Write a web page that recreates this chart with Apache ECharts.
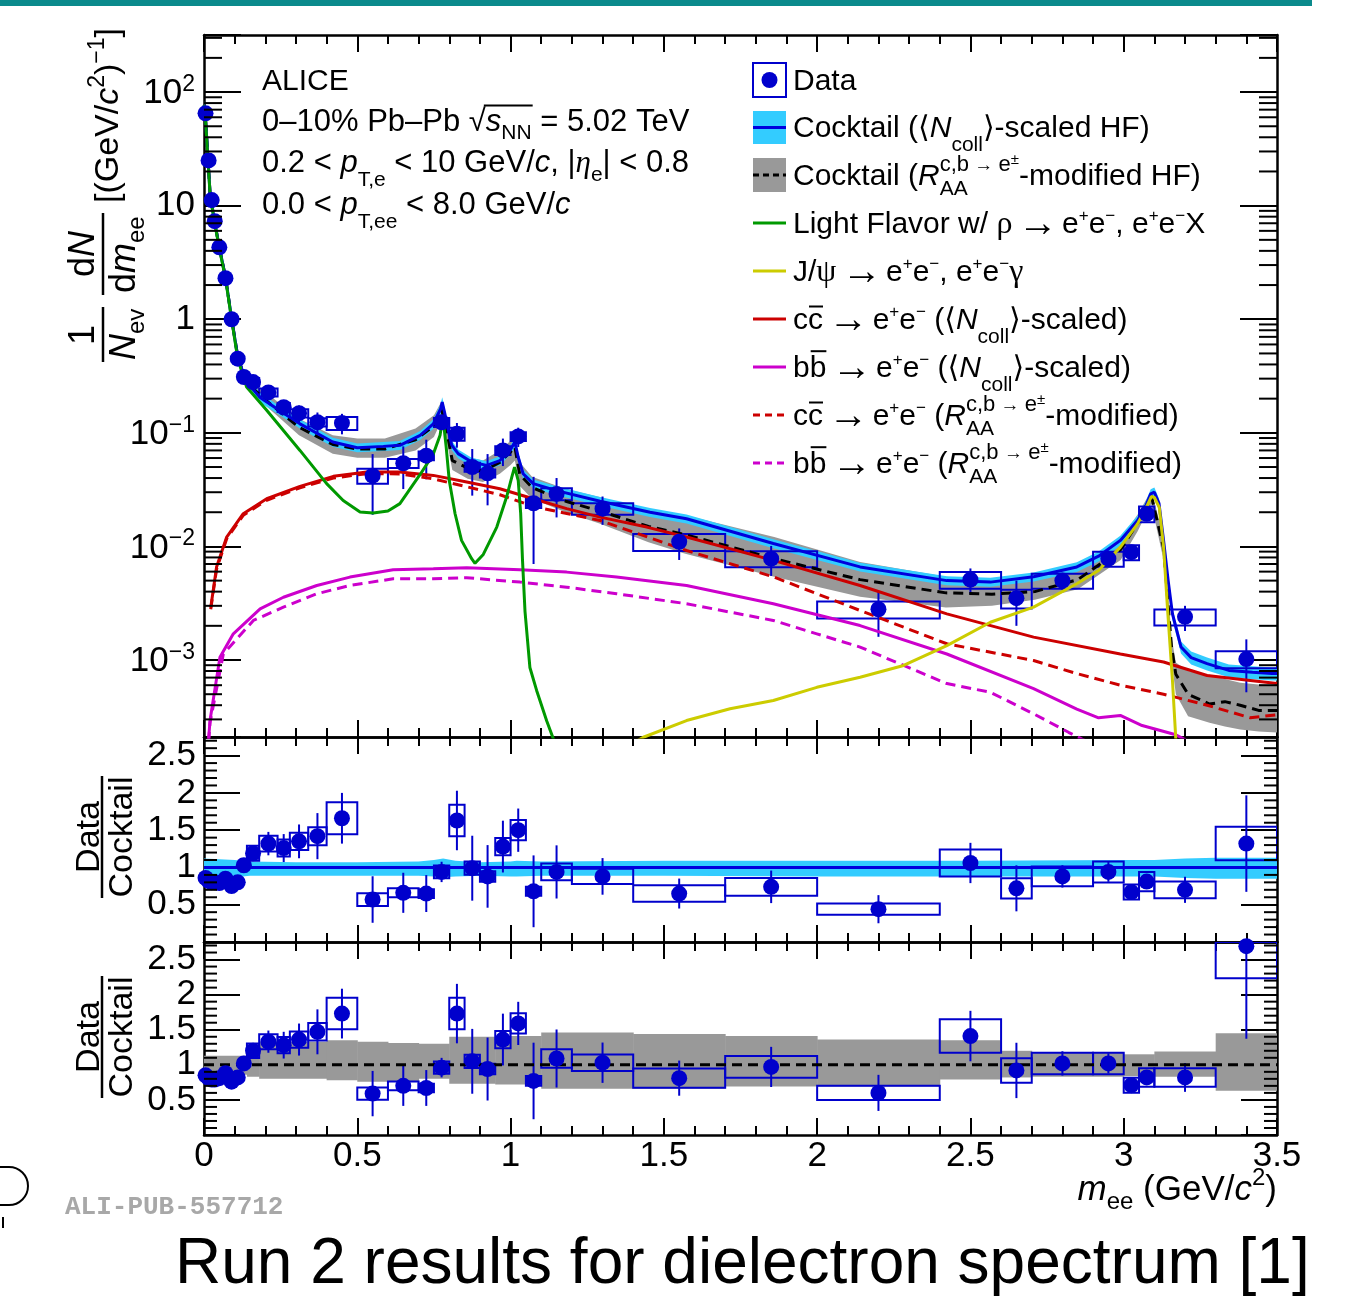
<!DOCTYPE html>
<html>
<head>
<meta charset="utf-8">
<script src="https://cdn.jsdelivr.net/npm/echarts@6/dist/echarts.min.js"></script>
<style>
  html, body { margin: 0; padding: 0; background: #fff; }
  #chart { width: 1360px; height: 1297px; }
</style>
</head>
<body>
<div id="chart"></div>
<script>
// ---- data points (bins in m_ee, GeV/c^2) ----
const massEdges = [0, 0.01, 0.02, 0.03, 0.04, 0.06, 0.08, 0.10, 0.12, 0.14, 0.18, 0.24, 0.28, 0.34, 0.40, 0.50, 0.60, 0.70, 0.75, 0.80, 0.85, 0.90, 0.95, 1.00, 1.05, 1.10, 1.20, 1.40, 1.70, 2.00, 2.40, 2.60, 2.70, 2.90, 3.00, 3.05, 3.10, 3.30, 3.50];
const massCenters = [0.005, 0.015, 0.025, 0.035, 0.05, 0.07, 0.09, 0.11, 0.13, 0.16, 0.21, 0.26, 0.31, 0.37, 0.45, 0.55, 0.65, 0.725, 0.775, 0.825, 0.875, 0.925, 0.975, 1.025, 1.075, 1.15, 1.30, 1.55, 1.85, 2.20, 2.50, 2.65, 2.80, 2.95, 3.025, 3.075, 3.20, 3.40];
const dataYield = [65, 25, 11.2, 7.3, 4.3, 2.3, 1.0, 0.45, 0.31, 0.28, 0.227, 0.168, 0.149, 0.124, 0.122, 0.042, 0.054, 0.063, 0.124, 0.098, 0.050, 0.044, 0.070, 0.093, 0.024, 0.029, 0.0215, 0.011, 0.0078, 0.0028, 0.0051, 0.0035, 0.0050, 0.0078, 0.0089, 0.0194, 0.0024, 0.00102];
const dataStat = [1.5, 0.6, 0.3, 0.2, 0.12, 0.07, 0.035, 0.018, 0.015, 0.022, 0.027, 0.025, 0.025, 0.027, 0.025, 0.023, 0.022, 0.024, 0.018, 0.024, 0.022, 0.021, 0.019, 0.018, 0.017, 0.011, 0.006, 0.0034, 0.0023, 0.0012, 0.0013, 0.0015, 0.00085, 0.0011, 0.0006, 0.001, 0.0006, 0.0005];
const dataSysRel = [0.08, 0.08, 0.08, 0.08, 0.08, 0.08, 0.08, 0.08, 0.08, 0.085, 0.08, 0.09, 0.085, 0.085, 0.13, 0.15, 0.09, 0.09, 0.09, 0.13, 0.09, 0.08, 0.09, 0.09, 0.09, 0.12, 0.115, 0.17, 0.16, 0.17, 0.17, 0.19, 0.15, 0.15, 0.15, 0.16, 0.16, 0.17];
const ratioNcoll = [0.86, 0.82, 0.80, 0.80, 0.79, 0.85, 0.75, 0.80, 1.03, 1.19, 1.32, 1.26, 1.35, 1.42, 1.66, 0.57, 0.66, 0.65, 0.94, 1.63, 0.99, 0.88, 1.28, 1.50, 0.68, 0.94, 0.88, 0.65, 0.74, 0.44, 1.06, 0.72, 0.88, 0.94, 0.67, 0.81, 0.70, 1.32];
const ratioRaa = [0.85, 0.81, 0.79, 0.79, 0.81, 0.88, 0.76, 0.82, 1.02, 1.20, 1.33, 1.28, 1.36, 1.47, 1.73, 0.59, 0.70, 0.67, 0.96, 1.73, 1.05, 0.94, 1.36, 1.59, 0.77, 1.09, 1.03, 0.81, 0.97, 0.60, 1.41, 0.92, 1.02, 1.02, 0.71, 0.82, 0.82, 2.69];

// ---- cocktail curves [m, value] ----
// Ncoll-scaled cocktail: [m, value, relative band half-width]
const cocktailNcoll = [[0.001,77,0.1],[0.005,58,0.1],[0.013,26,0.1],[0.02,12.5,0.1],[0.035,7.1,0.1],[0.05,4.3,0.1],[0.07,2.35,0.1],[0.09,1.02,0.1],[0.11,0.47,0.1],[0.13,0.32,0.1],[0.15,0.26,0.1],[0.183,0.205,0.1],[0.25,0.155,0.09],[0.313,0.12,0.09],[0.42,0.083,0.09],[0.5,0.074,0.09],[0.585,0.076,0.09],[0.639,0.0776,0.09],[0.705,0.095,0.09],[0.748,0.12,0.1],[0.772,0.163,0.1],[0.777,0.187,0.1],[0.785,0.15,0.1],[0.797,0.105,0.1],[0.808,0.078,0.1],[0.829,0.0656,0.09],[0.873,0.0554,0.09],[0.922,0.0517,0.09],[0.965,0.057,0.09],[0.998,0.070,0.09],[1.014,0.083,0.1],[1.025,0.061,0.1],[1.041,0.0436,0.09],[1.074,0.0357,0.09],[1.15,0.031,0.09],[1.292,0.025,0.09],[1.455,0.020,0.09],[1.574,0.0175,0.09],[1.857,0.0106,0.09],[2.14,0.0066,0.09],[2.423,0.0050,0.09],[2.565,0.00485,0.09],[2.706,0.0054,0.09],[2.847,0.0066,0.1],[2.918,0.0082,0.1],[2.989,0.0113,0.1],[3.045,0.0169,0.1],[3.07,0.022,0.1],[3.088,0.029,0.1],[3.10,0.030,0.1],[3.115,0.024,0.1],[3.13,0.0113,0.1],[3.145,0.005,0.12],[3.159,0.00255,0.12],[3.187,0.0013,0.12],[3.22,0.00105,0.13],[3.272,0.00093,0.13],[3.343,0.00081,0.13],[3.42,0.00078,0.13],[3.484,0.00076,0.13],[3.5,0.00076,0.13]];
// RAA-modified cocktail: [m, low, central, high]
const cocktailRaa = [[0.001,74,77,80],[0.005,56,58,60],[0.013,25,26,27],[0.02,12,12.5,13],[0.035,6.8,7.1,7.4],[0.05,4.1,4.3,4.5],[0.07,2.25,2.35,2.45],[0.09,0.97,1.02,1.07],[0.11,0.45,0.47,0.49],[0.13,0.30,0.32,0.34],[0.15,0.24,0.26,0.28],[0.2,0.175,0.195,0.229],[0.31,0.095,0.112,0.133],[0.42,0.0655,0.079,0.095],[0.5,0.0605,0.072,0.089],[0.59,0.0605,0.072,0.089],[0.69,0.070,0.087,0.109],[0.75,0.092,0.115,0.143],[0.775,0.129,0.16,0.19],[0.79,0.09,0.11,0.13],[0.81,0.047,0.057,0.070],[0.86,0.0395,0.049,0.061],[0.91,0.037,0.046,0.057],[0.965,0.0436,0.055,0.070],[1.0,0.052,0.068,0.085],[1.014,0.057,0.075,0.095],[1.03,0.034,0.043,0.055],[1.07,0.0263,0.033,0.041],[1.18,0.020,0.025,0.032],[1.29,0.0159,0.0205,0.0272],[1.45,0.0109,0.015,0.0207],[1.57,0.0086,0.0127,0.0188],[1.86,0.0054,0.0078,0.0121],[2.14,0.0036,0.0051,0.0073],[2.42,0.0029,0.0039,0.0054],[2.57,0.0030,0.0038,0.0050],[2.71,0.0034,0.0040,0.0054],[2.85,0.0042,0.0051,0.0066],[2.99,0.0076,0.0094,0.0117],[3.045,0.0135,0.016,0.019],[3.09,0.0238,0.028,0.031],[3.13,0.0076,0.0097,0.0121],[3.156,0.0010,0.0013,0.0016],[3.17,0.00050,0.00075,0.00095],[3.21,0.00032,0.00050,0.00080],[3.28,0.00028,0.00041,0.00074],[3.33,0.00026,0.00043,0.00068],[3.38,0.000245,0.00040,0.00063],[3.44,0.000235,0.00036,0.00061],[3.5,0.00023,0.00036,0.00060]];
const lightFlavor = [[0.001,77],[0.005,57],[0.013,25],[0.02,12.3],[0.035,7.0],[0.05,4.2],[0.07,2.3],[0.09,1.0],[0.11,0.45],[0.13,0.30],[0.139,0.253],[0.2045,0.158],[0.313,0.070],[0.40,0.0357],[0.454,0.0254],[0.509,0.0201],[0.552,0.0197],[0.60,0.0205],[0.639,0.0238],[0.705,0.043],[0.748,0.065],[0.77,0.095],[0.779,0.14],[0.79,0.075],[0.80,0.038],[0.819,0.0194],[0.84,0.0113],[0.873,0.0078],[0.884,0.0071],[0.911,0.0085],[0.955,0.0148],[0.987,0.0272],[1.004,0.0408],[1.013,0.050],[1.025,0.038],[1.033,0.0194],[1.039,0.0075],[1.047,0.0027],[1.063,0.00086],[1.085,0.00054],[1.118,0.00029],[1.15,0.00017]];
const jpsi = [[1.30,1.3e-4],[1.433,2.09e-4],[1.574,2.93e-4],[1.716,3.72e-4],[1.857,4.4e-4],[1.999,5.75e-4],[2.14,7.06e-4],[2.282,8.95e-4],[2.423,1.34e-3],[2.565,2.15e-3],[2.706,2.92e-3],[2.847,4.69e-3],[2.918,6.15e-3],[2.989,9.86e-3],[3.045,0.0158],[3.07,0.021],[3.09,0.0275],[3.10,0.027],[3.116,0.022],[3.13,0.0099],[3.144,0.00255],[3.159,6.6e-4],[3.17,2.0e-4],[3.18,1.2e-4]];
const ccNcoll = [[0.022,2.9e-3],[0.041,6.6e-3],[0.074,0.0121],[0.128,0.0194],[0.2045,0.0263],[0.313,0.0338],[0.422,0.0414],[0.531,0.0452],[0.639,0.0452],[0.748,0.0422],[0.857,0.0369],[0.965,0.0322],[1.074,0.0263],[1.183,0.0215],[1.292,0.0181],[1.444,0.0148],[1.574,0.0121],[1.857,0.00753],[2.14,0.00453],[2.423,0.00255],[2.706,0.00159],[2.989,0.00113],[3.13,9.6e-4],[3.272,7.3e-4],[3.413,6.6e-4],[3.5,6.2e-4]];
const ccRaa = [[0.022,2.8e-3],[0.041,6.3e-3],[0.074,0.0117],[0.128,0.0188],[0.2045,0.0255],[0.313,0.0328],[0.422,0.040],[0.531,0.0437],[0.639,0.0435],[0.748,0.0393],[0.857,0.0335],[0.965,0.0285],[1.074,0.0225],[1.183,0.0195],[1.292,0.0169],[1.574,0.0092],[1.857,0.0054],[2.14,0.00273],[2.423,0.00139],[2.706,9.9e-4],[2.847,7.6e-4],[2.989,6.0e-4],[3.13,5.0e-4],[3.272,4.0e-4],[3.413,3.1e-4],[3.5,3.3e-4]];
const bbNcoll = [[0.015,2.0e-4],[0.0196,2.93e-4],[0.052,1.06e-3],[0.0956,1.70e-3],[0.183,2.82e-3],[0.259,3.57e-3],[0.368,4.53e-3],[0.476,5.37e-3],[0.617,6.23e-3],[0.748,6.36e-3],[0.857,6.49e-3],[1.031,6.23e-3],[1.183,5.94e-3],[1.346,5.37e-3],[1.574,4.53e-3],[1.857,3.13e-3],[2.14,2.01e-3],[2.423,1.13e-3],[2.706,5.6e-4],[2.847,3.7e-4],[2.918,3.1e-4],[2.989,3.25e-4],[3.06,2.65e-4],[3.17,2.2e-4],[3.23,1.8e-4]];
const bbRaa = [[0.015,1.9e-4],[0.0196,2.8e-4],[0.063,1.13e-3],[0.161,2.23e-3],[0.259,2.92e-3],[0.368,3.83e-3],[0.476,4.53e-3],[0.617,5.19e-3],[0.748,5.19e-3],[0.857,5.3e-3],[1.031,4.85e-3],[1.183,4.38e-3],[1.346,3.83e-3],[1.574,3.13e-3],[1.857,2.23e-3],[1.999,1.70e-3],[2.14,1.30e-3],[2.423,6.2e-4],[2.565,5.2e-4],[2.706,3.36e-4],[2.82,2.31e-4],[2.90,1.8e-4]];

// ratio-panel uncertainty bands
const ncollRatioBand = [[0,0.86,1.12],[0.05,0.86,1.11],[0.1,0.87,1.10],[0.15,0.89,1.08],[0.3,0.89,1.07],[0.5,0.89,1.07],[0.7,0.89,1.08],[0.75,0.88,1.10],[0.78,0.87,1.12],[0.82,0.88,1.09],[0.9,0.89,1.07],[1.0,0.88,1.08],[1.02,0.88,1.09],[1.1,0.89,1.08],[1.5,0.89,1.09],[2.0,0.88,1.09],[2.5,0.88,1.09],[3.0,0.88,1.10],[3.1,0.88,1.10],[3.2,0.86,1.12],[3.3,0.85,1.13],[3.5,0.85,1.13]];
const raaRatioBand = [[0,0.14,0.86,1.13],[0.14,0.18,0.83,1.25],[0.18,0.40,0.80,1.33],[0.40,0.50,0.78,1.35],[0.50,0.60,0.76,1.33],[0.60,0.70,0.77,1.31],[0.70,0.80,0.80,1.30],[0.80,0.95,0.73,1.40],[0.95,1.10,0.72,1.41],[1.10,1.40,0.66,1.46],[1.40,1.70,0.66,1.44],[1.70,2.00,0.69,1.41],[2.00,2.40,0.69,1.36],[2.40,2.60,0.79,1.35],[2.60,2.70,0.82,1.20],[2.70,3.00,0.83,1.17],[3.00,3.10,0.84,1.15],[3.10,3.30,0.83,1.19],[3.30,3.50,0.63,1.45]];

// ---- styling ----
const FONT = '"Liberation Sans","DejaVu Sans",sans-serif';
const SERIF = '"Liberation Serif","DejaVu Serif",serif';
const BLUE = '#0000cc', LINEBLUE = '#0000dd', LIGHTBLUE = '#33ccff', GRAY = '#999999';
const GREEN = '#009900', YELLOW = '#cccc00', RED = '#cc0000', MAGENTA = '#cc00cc';

const mctx = document.createElement('canvas').getContext('2d');
function fontStr(p) { return p.f || ((p.it ? 'italic ' : '') + p.s + 'px ' + (p.serif ? SERIF : FONT)); }
function midOffset(font) {
  mctx.font = font; mctx.textBaseline = 'middle';
  return mctx.measureText('H').actualBoundingBoxDescent;
}
// lay out a line of text pieces (sub/superscripts) starting at x0 on a baseline
function texLine(x0, base, parts, opt) {
  opt = opt || {};
  const color = opt.color || '#000';
  const size = opt.s || 30;
  const items = parts.map(p => {
    const q = Object.assign({ s: size }, p);
    q.font = fontStr(q); mctx.font = q.font; q.w = mctx.measureText(q.t).width;
    return q;
  });
  let total = 0;
  items.forEach(q => { total += (q.dx || 0) + (q.stack ? 0 : q.w); });
  let x = opt.align === 'right' ? x0 - total : opt.align === 'center' ? x0 - total / 2 : x0;
  const els = [];
  let barX = 0;
  items.forEach(q => {
    x += q.dx || 0;
    const b = base + (q.dy || 0);
    els.push({ type: 'text', x: x, y: b - midOffset(q.font), silent: true,
      style: { text: q.t, font: q.font, fill: color, align: 'left', verticalAlign: 'middle' } });
    if (q.over) {
      const oy = b - q.over * q.s;
      els.push({ type: 'line', silent: true, shape: { x1: x + 1, y1: oy, x2: x + q.w, y2: oy }, style: { stroke: color, lineWidth: 2 } });
    }
    if (q.barStart) barX = x + q.w - 2;
    if (q.barEnd) {
      const oy = base - 0.82 * size;
      els.push({ type: 'line', silent: true, shape: { x1: barX, y1: oy, x2: x + q.w + 1, y2: oy }, style: { stroke: color, lineWidth: 2 } });
    }
    if (!q.stack) x += q.w;
  });
  return els;
}
const it = (t, o) => Object.assign({ t: t, it: true }, o || {});
const sup = t => ({ t: t, s: 17, dy: -12 });
const arrow = [{ t: ' ' }, { t: '\u2192', s: 40, dy: 3, dx: -3 }, { t: ' ', dx: -4 }];
const ee = [...arrow, { t: 'e' }, sup('+'), { t: 'e' }, sup('\u2212')];
const ncollTag = [{ t: '\u27e8' }, it('N'), { t: 'coll', s: 21, dy: 14 }, { t: '\u27e9' }];
const raaTag = [it('R'), { t: 'AA', s: 21, dy: 10, stack: true }, { t: 'c,b', s: 22, dy: -14 }, { t: ' \u2192 ', s: 19, dy: -14 }, { t: 'e', s: 22, dy: -14 }, { t: '\u00b1', s: 15, dy: -21 }];

// ---- axes ----
const grids = [
  { left: 204, top: 35, width: 1073, height: 702 },
  { left: 204, top: 737, width: 1073, height: 205 },
  { left: 204, top: 942, width: 1073, height: 193 }
];
const lineBlack = { color: '#000', width: 2.5 };
function xAx(gi, pos, showLabel) {
  return {
    type: 'value', gridIndex: gi, position: pos, min: 0, max: 3.5, interval: 0.5,
    axisLine: { show: true, onZero: false, lineStyle: lineBlack },
    axisTick: { show: true, inside: true, length: 17, lineStyle: { color: '#000', width: 2 } },
    minorTick: { show: true, splitNumber: 5, length: 9, lineStyle: { color: '#000', width: 2 } },
    axisLabel: { show: showLabel, margin: 4, fontSize: 35, fontFamily: FONT, color: '#000' },
    splitLine: { show: false }, minorSplitLine: { show: false }
  };
}
function logLabel(v) {
  const l = Math.log10(v), e = Math.round(l);
  if (Math.abs(l - e) > 1e-6) return '';
  if (e === 0) return '{b|1}';
  if (e === 1) return '{b|10}';
  return '{b|10}{s|' + (e < 0 ? '\u2212' + (-e) : e) + '}';
}
function yLog(pos, showLabel) {
  return {
    type: 'log', logBase: 10, gridIndex: 0, position: pos, min: 2.1e-4, max: 318,
    axisLine: { show: true, onZero: false, lineStyle: lineBlack },
    axisTick: { show: true, inside: true, length: 37, lineStyle: { color: '#000', width: 2 } },
    minorTick: { show: false },
    axisLabel: { show: showLabel, margin: 9, formatter: logLabel, color: '#000',
      rich: { b: { fontSize: 35, fontFamily: FONT, color: '#000', verticalAlign: 'bottom' },
              s: { fontSize: 23, fontFamily: FONT, color: '#000', verticalAlign: 'bottom', padding: [0, 0, 15, 0] } } },
    splitLine: { show: false }
  };
}
function yRatio(gi, pos, showLabel) {
  return {
    type: 'value', gridIndex: gi, position: pos, min: 0, max: 2.75, interval: 0.5,
    axisLine: { show: true, onZero: false, lineStyle: lineBlack },
    axisTick: { show: true, inside: true, length: 36, lineStyle: { color: '#000', width: 2 } },
    minorTick: { show: false },
    axisLabel: { show: showLabel, margin: 8, fontSize: 35, fontFamily: FONT, color: '#000',
      formatter: v => (v <= 0 || v > 2.6) ? '' : String(v) },
    splitLine: { show: false }
  };
}

// minor tick values (axis decoration only)
const logMinorTicks = [];
for (let d = -4; d <= 2; d++) for (let k = 2; k <= 9; k++) {
  const v = k * Math.pow(10, d);
  if (v > 2.1e-4 && v < 318) logMinorTicks.push(v);
}
const ratioMinorTicks = [];
for (let i = 1; i <= 27; i++) if (i % 5 !== 0) ratioMinorTicks.push(i / 10);

function yMinor(gi, vals, len) {
  return {
    type: 'custom', xAxisIndex: gi * 2, yAxisIndex: gi * 2, silent: true, z: 5,
    data: vals.map(v => [1, v]),
    renderItem: (params, api) => {
      const v = api.value(1);
      const a = api.coord([0, v]), b = api.coord([3.5, v]);
      return { type: 'group', children: [
        { type: 'line', shape: { x1: a[0], y1: a[1], x2: a[0] + len, y2: a[1] }, style: { stroke: '#000', lineWidth: 2 } },
        { type: 'line', shape: { x1: b[0] - len, y1: b[1], x2: b[0], y2: b[1] }, style: { stroke: '#000', lineWidth: 2 } }
      ] };
    }
  };
}
// filled band: pts [m, lo, hi]
function band(gi, pts, color) {
  return {
    type: 'custom', xAxisIndex: gi * 2, yAxisIndex: gi * 2, silent: true, clip: true,
    data: [[pts[0][0], pts[0][2]]],
    renderItem: (params, api) => {
      const up = pts.map(p => api.coord([p[0], p[2]]));
      const dn = pts.map(p => api.coord([p[0], p[1]])).reverse();
      return { type: 'polygon', shape: { points: up.concat(dn) }, style: { fill: color } };
    }
  };
}
function curve(gi, pts, color, dashed, width) {
  return {
    type: 'line', xAxisIndex: gi * 2, yAxisIndex: gi * 2, data: pts.map(p => [p[0], p[1]]),
    symbol: 'none', silent: true, clip: true, smooth: false,
    lineStyle: { color: color, width: width || 3, type: dashed ? [10, 6] : 'solid' }
  };
}
function boxes(gi, items) {
  return {
    type: 'custom', xAxisIndex: gi * 2, yAxisIndex: gi * 2, silent: true, clip: true,
    data: items,
    renderItem: (params, api) => {
      const p1 = api.coord([api.value(2), api.value(5)]);
      const p2 = api.coord([api.value(3), api.value(4)]);
      const r = echarts.graphic.clipRectByRect({ x: p1[0], y: p1[1], width: p2[0] - p1[0], height: p2[1] - p1[1] }, params.coordSys);
      if (!r) return null;
      return { type: 'rect', shape: r, style: { fill: 'none', stroke: BLUE, lineWidth: 2 } };
    }
  };
}
function errBars(gi, items) {
  return {
    type: 'custom', xAxisIndex: gi * 2, yAxisIndex: gi * 2, silent: true,
    data: items,
    renderItem: (params, api) => {
      const cs = params.coordSys;
      const x = api.value(0);
      const a = api.coord([x, Math.max(api.value(2), 1e-12)]), b = api.coord([x, api.value(3)]);
      const y1 = Math.max(Math.min(a[1], b[1]), cs.y), y2 = Math.min(Math.max(a[1], b[1]), cs.y + cs.height);
      return { type: 'line', shape: { x1: a[0], y1: y1, x2: a[0], y2: y2 }, style: { stroke: BLUE, lineWidth: 2 } };
    }
  };
}
function dots(gi, vals) {
  return {
    type: 'scatter', xAxisIndex: gi * 2, yAxisIndex: gi * 2, silent: true,
    data: massCenters.map((m, i) => [m, vals[i]]),
    symbol: 'circle', symbolSize: 16, itemStyle: { color: BLUE, opacity: 1 }, z: 4
  };
}
function ratioItems(vals) {
  return {
    box: massCenters.map((m, i) => [m, vals[i], massEdges[i], massEdges[i + 1], vals[i] * (1 - dataSysRel[i]), vals[i] * (1 + dataSysRel[i])]),
    err: massCenters.map((m, i) => { const e = vals[i] * dataStat[i] / dataYield[i]; return [m, vals[i], vals[i] - e, vals[i] + e]; })
  };
}
const topItems = {
  box: massCenters.map((m, i) => [m, dataYield[i], massEdges[i], massEdges[i + 1], dataYield[i] * (1 - dataSysRel[i]), dataYield[i] * (1 + dataSysRel[i])]),
  err: massCenters.map((m, i) => [m, dataYield[i], dataYield[i] - dataStat[i], dataYield[i] + dataStat[i]])
};
const midItems = ratioItems(ratioNcoll);
const lowItems = ratioItems(ratioRaa);

const series = [
  // top panel
  band(0, cocktailRaa.map(p => [p[0], p[1], p[3]]), GRAY),
  band(0, cocktailNcoll.map(p => [p[0], p[1] * (1 - p[2]), p[1] * (1 + p[2])]), LIGHTBLUE),
  curve(0, cocktailRaa.map(p => [p[0], p[2]]), '#000', true),
  curve(0, cocktailNcoll, LINEBLUE, false),
  curve(0, ccNcoll, RED, false),
  curve(0, ccRaa, RED, true),
  curve(0, bbNcoll, MAGENTA, false),
  curve(0, bbRaa, MAGENTA, true),
  curve(0, jpsi, YELLOW, false),
  curve(0, lightFlavor, GREEN, false),
  boxes(0, topItems.box), errBars(0, topItems.err), dots(0, dataYield),
  yMinor(0, logMinorTicks, 18),
  // middle ratio panel
  band(1, ncollRatioBand, LIGHTBLUE),
  curve(1, [[0, 1], [3.5, 1]], LINEBLUE, false, 3),
  boxes(1, midItems.box), errBars(1, midItems.err), dots(1, ratioNcoll),
  yMinor(1, ratioMinorTicks, 13),
  // bottom ratio panel
  {
    type: 'custom', xAxisIndex: 4, yAxisIndex: 4, silent: true, clip: true,
    data: raaRatioBand,
    renderItem: (params, api) => {
      const p1 = api.coord([api.value(0), api.value(3)]), p2 = api.coord([api.value(1), api.value(2)]);
      return { type: 'rect', shape: { x: p1[0], y: p1[1], width: p2[0] - p1[0] + 0.5, height: p2[1] - p1[1] }, style: { fill: GRAY } };
    }
  },
  curve(2, [[0, 1], [3.5, 1]], '#000', true, 3),
  boxes(2, lowItems.box), errBars(2, lowItems.err), dots(2, ratioRaa),
  yMinor(2, ratioMinorTicks, 13)
];

// ---- annotations ----
const g = [];
g.push({ type: 'rect', shape: { x: 0, y: 0, width: 1312, height: 6 }, style: { fill: '#0b8a8c' } });
// info block
g.push(...texLine(262, 90, [{ t: 'ALICE' }]));
g.push(...texLine(262, 131, [{ t: '0\u201310% Pb\u2013Pb ' }, { t: '\u221a', barStart: true }, it('s'), { t: 'NN', s: 21, dy: 8, barEnd: true }, { t: ' = 5.02 TeV' }], { s: 31 }));
g.push(...texLine(262, 172, [{ t: '0.2 < ' }, it('p'), { t: 'T,e', s: 21, dy: 14 }, { t: ' < 10 GeV/' }, it('c'), { t: ', |' }, { t: '\u03b7', it: true, serif: true }, { t: 'e', s: 21, dy: 9 }, { t: '| < 0.8' }], { s: 31 }));
g.push(...texLine(262, 214, [{ t: '0.0 < ' }, it('p'), { t: 'T,ee', s: 21, dy: 14 }, { t: ' < 8.0 GeV/' }, it('c')], { s: 31 }));
// legend
const LX = 793;
g.push({ type: 'rect', shape: { x: 753, y: 63, width: 33, height: 34 }, style: { fill: 'none', stroke: BLUE, lineWidth: 2 } });
g.push({ type: 'circle', shape: { cx: 769.5, cy: 80, r: 8 }, style: { fill: BLUE } });
g.push({ type: 'rect', shape: { x: 753, y: 111, width: 33, height: 33 }, style: { fill: LIGHTBLUE } });
g.push({ type: 'line', shape: { x1: 753, y1: 127.5, x2: 786, y2: 127.5 }, style: { stroke: LINEBLUE, lineWidth: 3 } });
g.push({ type: 'rect', shape: { x: 753, y: 158, width: 33, height: 34 }, style: { fill: GRAY } });
g.push({ type: 'line', shape: { x1: 753, y1: 175, x2: 786, y2: 175 }, style: { stroke: '#000', lineWidth: 3, lineDash: [6, 4] } });
[[223, GREEN, false], [271, YELLOW, false], [319, RED, false], [367, MAGENTA, false], [415, RED, true], [463, MAGENTA, true]].forEach(l => {
  const st = { stroke: l[1], lineWidth: 3 };
  if (l[2]) st.lineDash = [7, 5];
  g.push({ type: 'line', shape: { x1: 753, y1: l[0], x2: 786, y2: l[0] }, style: st });
});
g.push(...texLine(LX, 90, [{ t: 'Data' }]));
g.push(...texLine(LX, 137, [{ t: 'Cocktail (' }, ...ncollTag, { t: '-scaled HF)' }]));
g.push(...texLine(LX, 185, [{ t: 'Cocktail (' }, ...raaTag, { t: '-modified HF)' }]));
g.push(...texLine(LX, 233, [{ t: 'Light Flavor w/ ' }, { t: '\u03c1', serif: true, s: 32 }, ...ee, { t: ', e' }, sup('+'), { t: 'e' }, sup('\u2212'), { t: 'X' }]));
g.push(...texLine(LX, 281, [{ t: 'J/' }, { t: '\u03c8', serif: true, s: 32 }, ...ee, { t: ', e' }, sup('+'), { t: 'e' }, sup('\u2212'), { t: '\u03b3', serif: true, s: 32 }]));
g.push(...texLine(LX, 329, [{ t: 'c' }, { t: 'c', over: 0.75 }, ...ee, { t: ' (' }, ...ncollTag, { t: '-scaled)' }]));
g.push(...texLine(LX, 377, [{ t: 'b' }, { t: 'b', over: 0.86 }, ...ee, { t: ' (' }, ...ncollTag, { t: '-scaled)' }]));
g.push(...texLine(LX, 425, [{ t: 'c' }, { t: 'c', over: 0.75 }, ...ee, { t: ' (' }, ...raaTag, { t: '-modified)' }]));
g.push(...texLine(LX, 473, [{ t: 'b' }, { t: 'b', over: 0.86 }, ...ee, { t: ' (' }, ...raaTag, { t: '-modified)' }]));
// y title of the top panel (rotated, reading upwards)
const yTitle = [];
yTitle.push(...texLine(5, 135, [it('N', { s: 36 }), { t: 'ev', s: 24, dy: 9 }]));
yTitle.push(...texLine(30, 94, [{ t: '1', s: 36 }], { align: 'center' }));
yTitle.push({ type: 'line', shape: { x1: 3, y1: 103, x2: 58, y2: 103 }, style: { stroke: '#000', lineWidth: 2.5 } });
yTitle.push(...texLine(72, 135, [{ t: 'd', s: 36 }, it('m', { s: 36 }), { t: 'ee', s: 24, dy: 9 }]));
yTitle.push(...texLine(111, 94, [{ t: 'd', s: 36 }, it('N', { s: 36 })], { align: 'center' }));
yTitle.push({ type: 'line', shape: { x1: 70, y1: 103, x2: 152, y2: 103 }, style: { stroke: '#000', lineWidth: 2.5 } });
yTitle.push(...texLine(162, 118, [{ t: '[(GeV/', s: 34 }, it('c', { s: 34 }), { t: '2', s: 23, dy: -14 }, { t: ')', s: 34 }, { t: '\u22121', s: 23, dy: -14 }, { t: ']', s: 34 }]));
g.push({ type: 'group', x: 0, y: 365, rotation: Math.PI / 2, children: yTitle });
// ratio titles
[837, 1037].forEach(cy => {
  const ch = [];
  ch.push(...texLine(0, 99, [{ t: 'Data', s: 34 }], { align: 'center' }));
  ch.push({ type: 'line', shape: { x1: -61, y1: 102, x2: 61, y2: 102 }, style: { stroke: '#000', lineWidth: 2.5 } });
  ch.push(...texLine(0, 132, [{ t: 'Cocktail', s: 34 }], { align: 'center' }));
  g.push({ type: 'group', x: 0, y: cy, rotation: Math.PI / 2, children: ch });
});
// x title
g.push(...texLine(1277, 1200, [it('m', { s: 35 }), { t: 'ee', s: 24, dy: 9 }, { t: ' (GeV/', s: 35 }, it('c', { s: 35 }), { t: '2', s: 24, dy: -15 }, { t: ')', s: 35 }], { align: 'right' }));
// footer
g.push(...texLine(65, 1214, [{ t: 'ALI-PUB-557712', f: 'bold 26px "Liberation Mono","DejaVu Sans Mono",monospace' }], { color: '#a8a8a8' }));
g.push(...texLine(175, 1283, [{ t: 'Run 2 results for dielectron spectrum [1]', s: 64 }]));
// partial logo at the left edge
g.push({ type: 'line', shape: { x1: 0, y1: 1167, x2: 9, y2: 1167 }, style: { stroke: '#000', lineWidth: 2 } });
g.push({ type: 'arc', shape: { cx: 9, cy: 1186, r: 19, startAngle: -Math.PI / 2, endAngle: Math.PI / 2, clockwise: true }, style: { fill: 'none', stroke: '#000', lineWidth: 2 } });
g.push({ type: 'line', shape: { x1: 0, y1: 1205, x2: 9, y2: 1205 }, style: { stroke: '#000', lineWidth: 2 } });
g.push({ type: 'line', shape: { x1: 3, y1: 1217, x2: 3, y2: 1228 }, style: { stroke: '#000', lineWidth: 2 } });

const option = {
  animation: false,
  backgroundColor: '#fff',
  grid: grids,
  xAxis: [xAx(0, 'bottom', false), xAx(0, 'top', false), xAx(1, 'bottom', false), xAx(1, 'top', false), xAx(2, 'bottom', true), xAx(2, 'top', false)],
  yAxis: [yLog('left', true), yLog('right', false), yRatio(1, 'left', true), yRatio(1, 'right', false), yRatio(2, 'left', true), yRatio(2, 'right', false)],
  series: series,
  graphic: { elements: g.map(e => Object.assign({ silent: true, z: 100 }, e)) }
};
const chart = echarts.init(document.getElementById('chart'));
chart.setOption(option);
</script>
</body>
</html>
